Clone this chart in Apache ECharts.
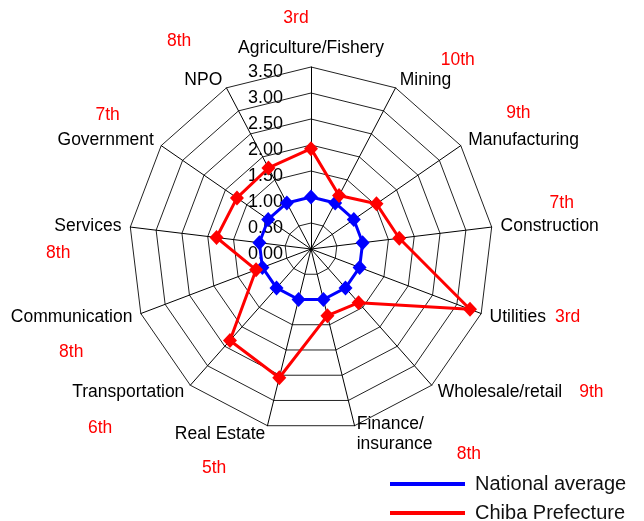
<!DOCTYPE html>
<html>
<head>
<meta charset="utf-8">
<script src="https://cdn.jsdelivr.net/npm/echarts@6/dist/echarts.min.js"></script>
<style>
  html, body { margin: 0; padding: 0; background: #fff; }
  #chart { width: 644px; height: 521px; }
</style>
</head>
<body>
<div id="chart"></div>
<script>
  // sectors, clockwise from the top
  var sectors = ['Agriculture/Fishery', 'Mining', 'Manufacturing', 'Construction', 'Utilities',
    'Wholesale/retail', 'Finance/\ninsurance', 'Real Estate', 'Transportation', 'Communication',
    'Services', 'Government', 'NPO'];
  // Chiba's rank among prefectures for each sector
  var chibaRanks = ['3rd', '10th', '9th', '7th', '3rd', '9th', '8th', '5th', '6th', '8th', '8th', '7th', '8th'];
  var nationalAverage = [1.00, 1.00, 1.00, 1.00, 1.00, 1.00, 1.00, 1.00, 1.00, 1.00, 1.00, 1.00, 1.00];
  var chibaPrefecture = [1.93, 1.16, 1.53, 1.71, 3.27, 1.38, 1.32, 2.55, 2.35, 1.13, 1.83, 1.73, 1.76];
  var axisMax = 3.5;

  // where the red rank goes next to each sector name: [kind, padLeft, padRight, lineHeight]
  var rankPlace = [
    ['top', 0, 30, 40],
    ['above', 41, 0, 20],
    ['above', 38, 0, 34],
    ['above', 49, 0, 26],
    ['right', 9, 0, 20],
    ['right', 17, 0, 20],
    ['under', 100, 0, 1],
    ['below', 0, 39, 48],
    ['below', 0, 72, 52],
    ['below', 0, 49, 50],
    ['below', 0, 51, 34],
    ['above', 0, 34, 30],
    ['above', 0, 31, 58]
  ];

  var font = '"Liberation Sans", Arial, sans-serif';
  var rich = { n: { fontSize: 17.5, lineHeight: 20, color: '#000', fontFamily: font } };

  function sectorName(i) {
    var p = rankPlace[i];
    var r = '{r' + i + '|' + chibaRanks[i] + '}';
    var s = '{s' + i + '| }';
    var n = '{n|' + sectors[i] + '}';
    rich['r' + i] = { color: '#ff0000', fontSize: 17.5, fontFamily: font, lineHeight: p[3], padding: [0, p[2], 0, p[1]] };
    rich['s' + i] = { fontSize: 17.5, lineHeight: p[3] };
    if (p[0] === 'top') return r + '\n' + n;
    if (p[0] === 'above') return r + '\n' + n + '\n' + s;
    if (p[0] === 'below') return s + '\n' + n + '\n' + r;
    if (p[0] === 'under') return n + '\n' + r;
    return n + r;
  }

  // echarts lays radar axes out counter-clockwise, so flip the order after the first one
  var order = [0];
  for (var k = sectors.length - 1; k > 0; k--) order.push(k);
  function reorder(arr) {
    return order.map(function (i) { return arr[i]; });
  }

  var indicators = order.map(function (i) {
    var ind = { name: sectorName(i), min: 0, max: axisMax };
    if (i === 0) {
      // scale labels only on the top axis
      ind.axisLabel = {
        show: true,
        margin: 28,
        fontSize: 18,
        color: '#000',
        fontFamily: font,
        verticalAlign: 'top',
        lineHeight: 10,
        formatter: function (v) { return Number(v).toFixed(2); }
      };
    }
    return ind;
  });

  var chart = echarts.init(document.getElementById('chart'));
  chart.setOption({
    animation: false,
    color: ['#0000ff', '#ff0000'],
    legend: {
      orient: 'vertical',
      left: 390,
      top: 474,
      height: 60,
      padding: 0,
      itemGap: 9,
      icon: 'rect',
      itemWidth: 75,
      itemHeight: 4,
      textStyle: { fontSize: 20, color: '#111', fontFamily: font, padding: [0, 0, 0, 5] },
      data: ['National average', 'Chiba Prefecture']
    },
    radar: {
      center: [311, 249],
      radius: 182,
      startAngle: 90,
      shape: 'polygon',
      splitNumber: 7,
      nameGap: 9,
      indicator: indicators,
      axisName: { color: '#000', fontSize: 17.5, fontFamily: font, rich: rich },
      axisLine: { lineStyle: { color: '#000', width: 1 } },
      splitLine: { lineStyle: { color: '#222', width: 1 } },
      splitArea: { show: false },
      axisLabel: { show: false }
    },
    series: [{
      type: 'radar',
      symbol: 'diamond',
      symbolSize: [14, 15],
      data: [
        {
          name: 'National average',
          value: reorder(nationalAverage),
          itemStyle: { color: '#0000ff' },
          lineStyle: { color: '#0000ff', width: 3 }
        },
        {
          name: 'Chiba Prefecture',
          value: reorder(chibaPrefecture),
          itemStyle: { color: '#ff0000' },
          lineStyle: { color: '#ff0000', width: 3 }
        }
      ]
    }]
  });
</script>
</body>
</html>
